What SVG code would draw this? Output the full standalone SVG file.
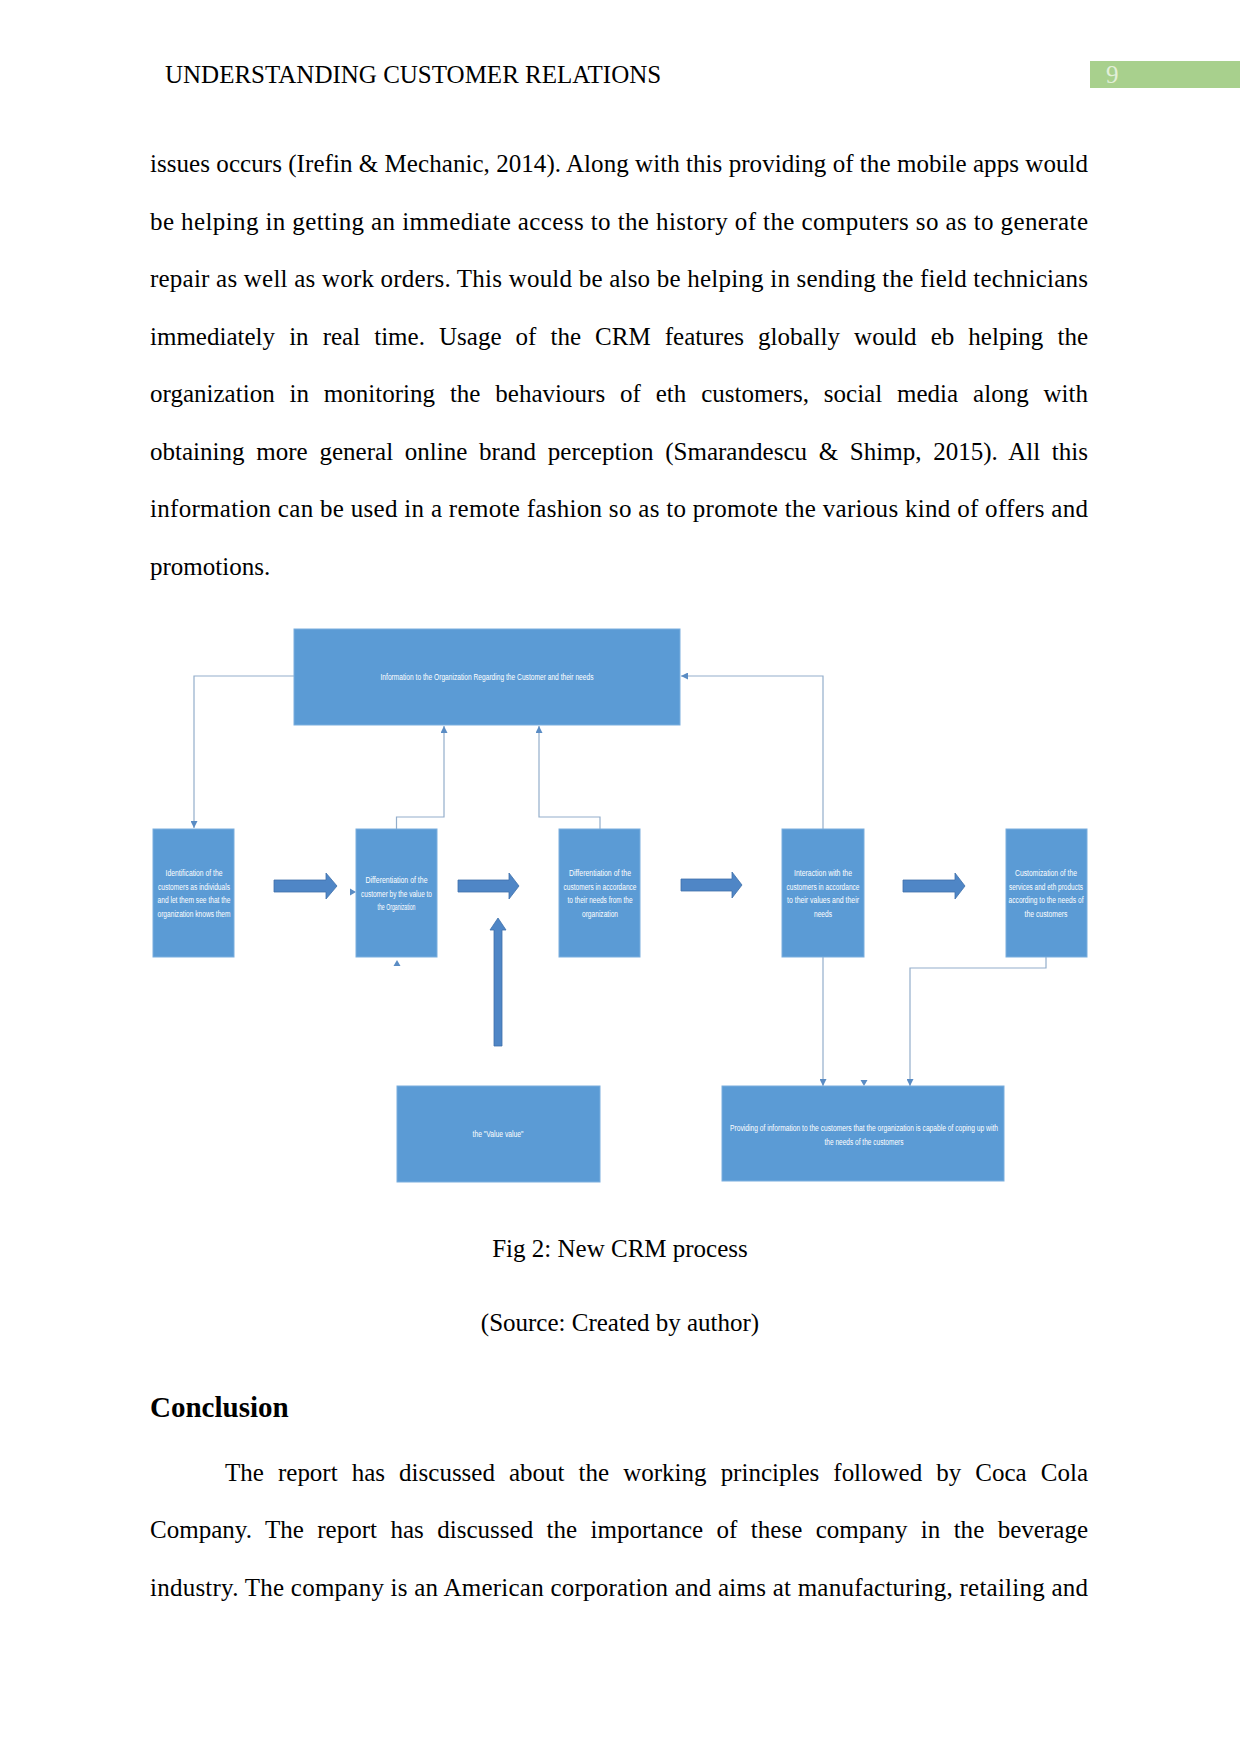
<svg xmlns="http://www.w3.org/2000/svg" width="1241" height="1754" viewBox="0 0 1241 1754">
<style>
.page{font-family:"Liberation Serif","Times New Roman",serif;font-size:25px;fill:#000}
.bx{fill:#5b9bd5;stroke:#7aaede;stroke-width:1}
.bt{font-family:"Liberation Sans Narrow","Liberation Sans",Arial,sans-serif;font-size:8.5px;fill:#ffffff;text-anchor:middle}
.cn{fill:none;stroke:#93aecb;stroke-width:1.2}
.blk{fill:#4f86c6;stroke:#3f70aa;stroke-width:0.8}
.tip{fill:#5a8cc4}
</style>
<defs>
<marker id="ah" viewBox="0 0 10 10" refX="10" refY="5" markerWidth="7" markerHeight="7" markerUnits="userSpaceOnUse" orient="auto">
<path d="M0,0 L10,5 L0,10 z" fill="#5a8cc4"/>
</marker>
</defs>
<rect width="1241" height="1754" fill="#ffffff"/>
<!-- header -->
<text class="page" x="165" y="83">UNDERSTANDING CUSTOMER RELATIONS</text>
<rect x="1090" y="61" width="150" height="27" fill="#a8d08d"/>
<text class="page" x="1106" y="83" style="fill:#e2efd9">9</text>
<!-- body -->
<g class="page">
<text x="150" y="172" textLength="938" lengthAdjust="spacing">issues occurs (Irefin &amp; Mechanic, 2014). Along with this providing of the mobile apps would</text>
<text x="150" y="229.5" textLength="938" lengthAdjust="spacing">be helping in getting an immediate access to the history of the computers so as to generate</text>
<text x="150" y="287" textLength="938" lengthAdjust="spacing">repair as well as work orders. This would be also be helping in sending the field technicians</text>
<text x="150" y="344.5" word-spacing="7.8" textLength="938" lengthAdjust="spacing">immediately in real time. Usage of the CRM features globally would eb helping the</text>
<text x="150" y="402" word-spacing="8.6" textLength="938" lengthAdjust="spacing">organization in monitoring the behaviours of eth customers, social media along with</text>
<text x="150" y="459.5" word-spacing="5.4" textLength="938" lengthAdjust="spacing">obtaining more general online brand perception (Smarandescu &amp; Shimp, 2015). All this</text>
<text x="150" y="517" textLength="938" lengthAdjust="spacing">information can be used in a remote fashion so as to promote the various kind of offers and</text>
<text x="150" y="574.5">promotions.</text>
</g>
<!-- connectors -->
<g id="connectors">
<path class="cn" d="M294,676 H194 V828" marker-end="url(#ah)"/>
<path class="cn" d="M396.5,829 V817 H444 V726" marker-end="url(#ah)"/>
<path class="cn" d="M600,829 V817 H539 V726" marker-end="url(#ah)"/>
<path class="cn" d="M823,829 V676 H681" marker-end="url(#ah)"/>
<path class="cn" d="M823,957 V1086" marker-end="url(#ah)"/>
<path class="cn" d="M1046,957 V968 H910 V1086" marker-end="url(#ah)"/>
<path class="tip" d="M350,888.5 L356,892 L350,895.5 z"/>
<path class="tip" d="M397,960 L400.5,966 L393.5,966 z"/>
<path class="tip" d="M860.5,1080 L867.5,1080 L864,1086 z"/>
<polygon class="blk" points="274,880 326,880 326,873 337,886 326,899 326,892 274,892"/>
<polygon class="blk" points="458,880 509,880 509,873 519,886 509,899 509,892 458,892"/>
<polygon class="blk" points="681,879 732,879 732,872 742,885 732,898 732,891 681,891"/>
<polygon class="blk" points="903,880 955,880 955,873 965,886 955,899 955,892 903,892"/>
<polygon class="blk" points="494,1046 494,930 490,930 498,918 506,930 502,930 502,1046"/>
</g>
<!-- nodes -->
<g id="n-info">
<rect class="bx" x="294" y="629" width="386" height="96"/>
<text class="bt" x="487" y="680" textLength="213" lengthAdjust="spacingAndGlyphs">Information to the Organization Regarding the Customer and their needs</text>
</g>
<g id="n-ident">
<rect class="bx" x="153" y="829" width="81" height="128"/>
<text class="bt" x="194" y="876" textLength="57" lengthAdjust="spacingAndGlyphs">Identification of the</text>
<text class="bt" x="194" y="890" textLength="72" lengthAdjust="spacingAndGlyphs">customers as individuals</text>
<text class="bt" x="194" y="903" textLength="73" lengthAdjust="spacingAndGlyphs">and let them see that the</text>
<text class="bt" x="194" y="917" textLength="73" lengthAdjust="spacingAndGlyphs">organization knows them</text>
</g>
<g id="n-diffvalue">
<rect class="bx" x="356" y="829" width="81" height="128"/>
<text class="bt" x="396.5" y="883" textLength="62" lengthAdjust="spacingAndGlyphs">Differentiation of the</text>
<text class="bt" x="396.5" y="897" textLength="71" lengthAdjust="spacingAndGlyphs">customer by the value to</text>
<text class="bt" x="396.5" y="910" textLength="38" lengthAdjust="spacingAndGlyphs">the Organization</text>
</g>
<g id="n-diffneeds">
<rect class="bx" x="559" y="829" width="81" height="128"/>
<text class="bt" x="600" y="876" textLength="62" lengthAdjust="spacingAndGlyphs">Differentiation of the</text>
<text class="bt" x="600" y="890" textLength="73" lengthAdjust="spacingAndGlyphs">customers in accordance</text>
<text class="bt" x="600" y="903" textLength="65" lengthAdjust="spacingAndGlyphs">to their needs from the</text>
<text class="bt" x="600" y="917" textLength="36" lengthAdjust="spacingAndGlyphs">organization</text>
</g>
<g id="n-interact">
<rect class="bx" x="782" y="829" width="82" height="128"/>
<text class="bt" x="823" y="876" textLength="58" lengthAdjust="spacingAndGlyphs">Interaction with the</text>
<text class="bt" x="823" y="890" textLength="73" lengthAdjust="spacingAndGlyphs">customers in accordance</text>
<text class="bt" x="823" y="903" textLength="72" lengthAdjust="spacingAndGlyphs">to their values and their</text>
<text class="bt" x="823" y="917" textLength="18" lengthAdjust="spacingAndGlyphs">needs</text>
</g>
<g id="n-custom">
<rect class="bx" x="1006" y="829" width="81" height="128"/>
<text class="bt" x="1046" y="876" textLength="62" lengthAdjust="spacingAndGlyphs">Customization of the</text>
<text class="bt" x="1046" y="890" textLength="74" lengthAdjust="spacingAndGlyphs">services and eth products</text>
<text class="bt" x="1046" y="903" textLength="75" lengthAdjust="spacingAndGlyphs">according to the needs of</text>
<text class="bt" x="1046" y="917" textLength="43" lengthAdjust="spacingAndGlyphs">the customers</text>
</g>
<g id="n-value">
<rect class="bx" x="397" y="1086" width="203" height="96"/>
<text class="bt" x="498" y="1137" textLength="51" lengthAdjust="spacingAndGlyphs">the "Value value"</text>
</g>
<g id="n-provide">
<rect class="bx" x="722" y="1086" width="282" height="95"/>
<text class="bt" x="864" y="1131" textLength="268" lengthAdjust="spacingAndGlyphs">Providing of information to the customers that the organization is capable of coping up with</text>
<text class="bt" x="864" y="1145" textLength="79" lengthAdjust="spacingAndGlyphs">the needs of the customers</text>
</g>
<!-- caption -->
<g class="page">
<text x="620" y="1257" text-anchor="middle">Fig 2: New CRM process</text>
<text x="620" y="1331" text-anchor="middle">(Source: Created by author)</text>
<text x="150" y="1417" style="font-weight:bold;font-size:29px">Conclusion</text>
<text x="225" y="1481" word-spacing="7.8" textLength="863" lengthAdjust="spacing">The report has discussed about the working principles followed by Coca Cola</text>
<text x="150" y="1538" word-spacing="7.1" textLength="938" lengthAdjust="spacing">Company. The report has discussed the importance of these company in the beverage</text>
<text x="150" y="1596" textLength="938" lengthAdjust="spacing">industry. The company is an American corporation and aims at manufacturing, retailing and</text>
</g>
</svg>
